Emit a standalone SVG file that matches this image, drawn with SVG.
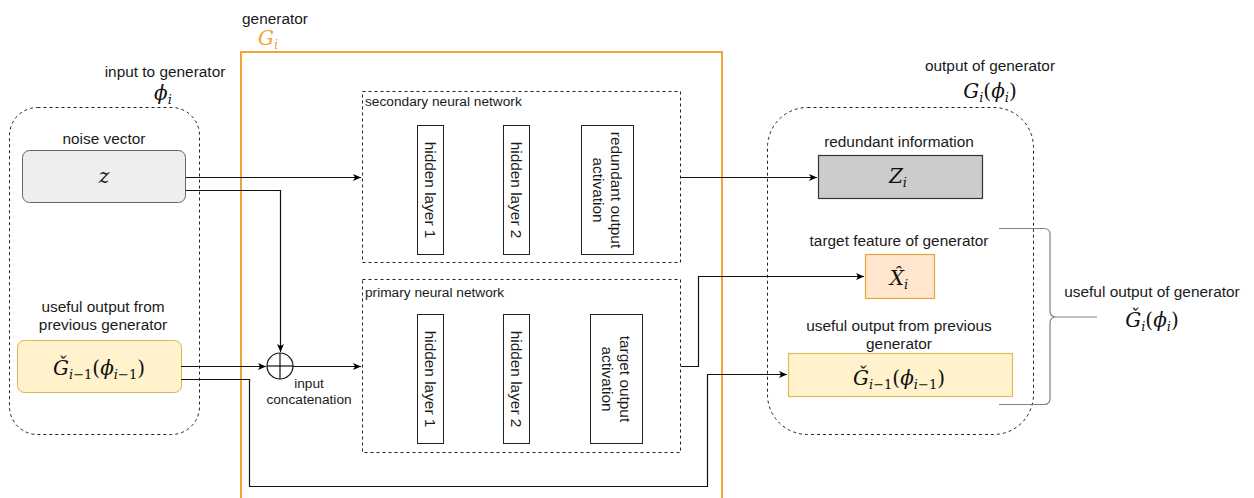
<svg xmlns="http://www.w3.org/2000/svg" width="1254" height="498" viewBox="0 0 1254 498">
<defs>
<marker id="arr" markerUnits="userSpaceOnUse" markerWidth="9" markerHeight="8" refX="8" refY="4" orient="auto"><path d="M0,0.5 L8,4 L0,7.5 L2,4 z" fill="#000"/></marker>
<style>
.t{font-family:"Liberation Sans",Arial,sans-serif;font-size:15.4px;fill:#1a1a1a;text-anchor:middle}
.ts{font-family:"Liberation Sans",Arial,sans-serif;font-size:13.7px;fill:#1a1a1a}
.tv{font-family:"Liberation Sans",Arial,sans-serif;font-size:15.4px;fill:#1a1a1a;text-anchor:middle;dominant-baseline:central}
.m{font-family:"DejaVu Serif","Liberation Serif",serif;font-style:italic;font-size:20px;fill:#111;text-anchor:middle}
.s{font-size:13px}
.u{font-style:normal}
.dash{fill:none;stroke:#222;stroke-width:1;stroke-dasharray:3 3}
.layer{fill:#fff;stroke:#222;stroke-width:1}
.ca{fill:none;stroke:#111;stroke-width:1.2;marker-end:url(#arr)}
</style>
</defs>

<g id="generator">
<rect x="241" y="52" width="481" height="470" fill="none" stroke="#F2A33A" stroke-width="2"/>
<text class="t" x="275" y="24">generator</text>
<text class="m" x="268" y="45" style="fill:#F2A33A">G<tspan class="s" dy="4">i</tspan></text>
</g>

<g id="input-group">
<rect class="dash" x="9.5" y="107.5" width="190" height="327" rx="28"/>
<text class="t" x="165" y="77">input to generator</text>
<text class="m" x="163" y="100">ϕ<tspan class="s" dy="4">i</tspan></text>
</g>

<g id="noise-vector">
<text class="t" x="104" y="144">noise vector</text>
<rect x="22.5" y="150.5" width="163" height="52" rx="7" fill="#eeeeee" stroke="#666" stroke-width="1"/>
<text class="m" x="104" y="183">z</text>
</g>

<g id="prev-output">
<text class="t" x="103" y="312">useful output from</text>
<text class="t" x="103" y="330">previous generator</text>
<rect x="17.5" y="340.5" width="164" height="52" rx="7" fill="#fff2cc" stroke="#d6b656" stroke-width="1"/>
<text class="m" x="99" y="375">Ǧ<tspan class="s" dy="4">i</tspan><tspan class="s u">−1</tspan><tspan class="u" dy="-4">(</tspan>ϕ<tspan class="s" dy="4">i</tspan><tspan class="s u">−1</tspan><tspan class="u" dy="-4">)</tspan></text>
</g>

<g id="concat">
<circle cx="280" cy="366" r="13" fill="#fff" stroke="#111" stroke-width="1.2"/>
<line x1="267" y1="366" x2="293" y2="366" stroke="#111" stroke-width="1.2"/>
<line x1="280" y1="353" x2="280" y2="379" stroke="#111" stroke-width="1.2"/>
<text class="ts" x="309" y="388" text-anchor="middle">input</text>
<text class="ts" x="309" y="404" text-anchor="middle">concatenation</text>
</g>

<g id="secondary-nn">
<rect class="dash" x="362.5" y="91.5" width="318" height="171"/>
<text class="ts" x="365" y="106">secondary neural network</text>
<rect class="layer" x="417.5" y="125.5" width="26" height="129"/>
<text class="tv" transform="translate(430.5,190) rotate(90)">hidden layer 1</text>
<rect class="layer" x="503.5" y="125.5" width="26" height="129"/>
<text class="tv" transform="translate(516.5,190) rotate(90)">hidden layer 2</text>
<rect class="layer" x="581.5" y="125.5" width="52" height="129"/>
<text class="tv" transform="translate(607.5,190) rotate(90)"><tspan x="0" y="-9">redundant output</tspan><tspan x="0" y="9">activation</tspan></text>
</g>

<g id="primary-nn">
<rect class="dash" x="362.5" y="279.5" width="318" height="173"/>
<text class="ts" x="365" y="297">primary neural network</text>
<rect class="layer" x="417.5" y="314.5" width="26" height="129"/>
<text class="tv" transform="translate(430.5,379) rotate(90)">hidden layer 1</text>
<rect class="layer" x="503.5" y="314.5" width="26" height="129"/>
<text class="tv" transform="translate(516.5,379) rotate(90)">hidden layer 2</text>
<rect class="layer" x="590.5" y="314.5" width="52" height="129"/>
<text class="tv" transform="translate(616.5,379) rotate(90)"><tspan x="0" y="-9">target output</tspan><tspan x="0" y="9">activation</tspan></text>
</g>

<g id="output-group">
<rect class="dash" x="767.5" y="107.5" width="266" height="327" rx="40"/>
<text class="t" x="990" y="71">output of generator</text>
<text class="m" x="990" y="98">G<tspan class="s" dy="4">i</tspan><tspan class="u" dy="-4">(</tspan>ϕ<tspan class="s" dy="4">i</tspan><tspan class="u" dy="-4">)</tspan></text>
</g>

<g id="redundant-info">
<text class="t" x="899" y="147">redundant information</text>
<rect x="818.5" y="155.5" width="164" height="43" fill="#cccccc" stroke="#333" stroke-width="1.2"/>
<text class="m" x="898" y="183">Z<tspan class="s" dy="4">i</tspan></text>
</g>

<g id="target-feature">
<text class="t" x="899" y="246">target feature of generator</text>
<rect x="865.5" y="254.5" width="69" height="44" fill="#ffe6cc" stroke="#e3a740" stroke-width="1.2"/>
<text class="m" x="899" y="285">X̂<tspan class="s" dy="4">i</tspan></text>
</g>

<g id="prev-output-copy">
<text class="t" x="899" y="331">useful output from previous</text>
<text class="t" x="899" y="349">generator</text>
<rect x="788.5" y="353.5" width="224" height="43" fill="#fff2cc" stroke="#e0bd5a" stroke-width="1.2"/>
<text class="m" x="899" y="385">Ǧ<tspan class="s" dy="4">i</tspan><tspan class="s u">−1</tspan><tspan class="u" dy="-4">(</tspan>ϕ<tspan class="s" dy="4">i</tspan><tspan class="s u">−1</tspan><tspan class="u" dy="-4">)</tspan></text>
</g>

<g id="useful-output">
<path d="M999,228.5 L1044,228.5 Q1050,228.5 1050,234.5 L1050,311 Q1050,317 1056,317 L1097,317 M1056,317 Q1050,317 1050,323 L1050,398.5 Q1050,404.5 1044,404.5 L999,404.5" fill="none" stroke="#808080" stroke-width="1.2"/>
<text class="t" x="1152" y="297">useful output of generator</text>
<text class="m" x="1152" y="327">Ǧ<tspan class="s" dy="4">i</tspan><tspan class="u" dy="-4">(</tspan>ϕ<tspan class="s" dy="4">i</tspan><tspan class="u" dy="-4">)</tspan></text>
</g>

<g id="connectors">
<path class="ca" d="M186,177.5 L361,177.5"/>
<path class="ca" d="M186,190.5 L280.5,190.5 L280.5,352"/>
<path class="ca" d="M181,366.5 L266,366.5"/>
<path class="ca" d="M293,366.5 L361,366.5"/>
<path class="ca" d="M681,177.5 L817,177.5"/>
<path class="ca" d="M681,366.5 L698.5,366.5 L698.5,276.5 L864,276.5"/>
<path class="ca" d="M181,379.5 L249.5,379.5 L249.5,486.5 L707.5,486.5 L707.5,374.5 L787,374.5"/>
</g>
</svg>
